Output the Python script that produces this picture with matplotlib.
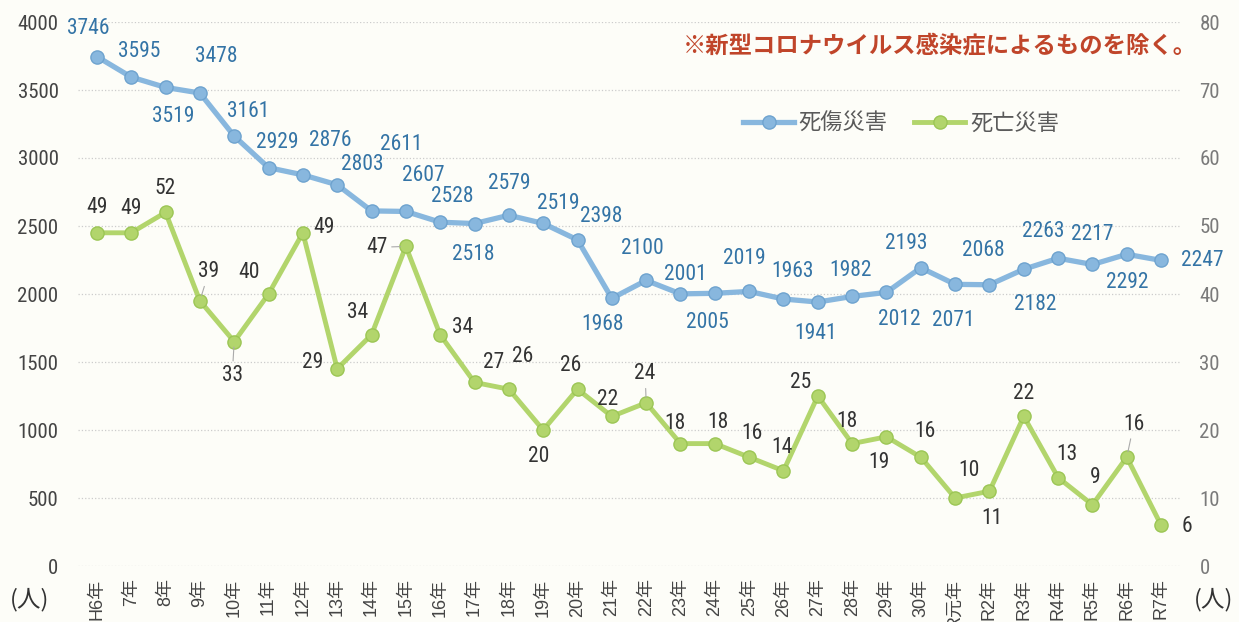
import matplotlib
matplotlib.use('Agg')
import matplotlib.pyplot as plt
from matplotlib import font_manager

# ── Data ──────────────────────────────────────────────────────────────────────
years = ['H6年', '7年', '8年', '9年', '10年', '11年', '12年', '13年', '14年', '15年',
         '16年', '17年', '18年', '19年', '20年', '21年', '22年', '23年', '24年', '25年',
         '26年', '27年', '28年', '29年', '30年', 'R元年', 'R2年', 'R3年', 'R4年', 'R5年',
         'R6年', 'R7年']
injuries = [3746, 3595, 3519, 3478, 3161, 2929, 2876, 2803, 2611, 2607,
            2528, 2518, 2579, 2519, 2398, 1968, 2100, 2001, 2005, 2019,
            1963, 1941, 1982, 2012, 2193, 2071, 2068, 2182, 2263, 2217,
            2292, 2247]
deaths = [49, 49, 52, 39, 33, 40, 49, 29, 34, 47,
          34, 27, 26, 20, 26, 22, 24, 18, 18, 16,
          14, 25, 18, 19, 16, 10, 11, 22, 13, 9,
          16, 6]
left_ticks = [0, 500, 1000, 1500, 2000, 2500, 3000, 3500, 4000]
right_ticks = [0, 10, 20, 30, 40, 50, 60, 70, 80]

NOTE = '※新型コロナウイルス感染症によるものを除く。'
NAME_INJ = '死傷災害'
NAME_DEATH = '死亡災害'
UNIT = '(人)'

# ── Label placement (pixel offsets from each point) ──────────────────────────
inj_off = [(-9, 28), (8, 26), (8, -29), (16, 36), (14, 25), (9, 25), (27, 34), (25, 20),
           (30, 66), (17, 36), (12, 26), (-1, -31), (0, 32), (15, 20), (24, 23), (-9, -26),
           (-4, 32), (5, 19), (-7, -29), (-5, 33), (9, 28), (-2, -31), (-2, 26), (13, -27),
           (-15, 24), (-2, -36), (-6, 34), (11, -35), (-15, 27), (0, 30), (0, -28), (41, 0)]
death_off = [(0, 25), (0, 24), (0, 24), (9, 29), (-2, -34), (-19, 22), (21, 5), (-25, 6),
             (-14, 22), (-29, -1), (22, 7), (19, 20), (14, 33), (-4, -26), (-7, 24), (-4, 17),
             (-1, 29), (-6, 20), (3, 21), (3, 24), (-1, 23), (-17, 14), (-5, 22), (-8, -26),
             (4, 26), (14, 27), (2, -27), (0, 23), (9, 23), (3, 27), (7, 33), (26, -1)]
death_leader = {3, 4, 9, 16, 30}

# ── Theme ─────────────────────────────────────────────────────────────────────
BG_COLOR = '#fdfdf8'
BLUE = '#88b7de'
BLUE_EDGE = '#6ea3cf'
BLUE_TEXT = '#3474a6'
GREEN = '#b2d56c'
GREEN_EDGE = '#9cc655'
GREEN_TEXT = '#333333'
TICK_COLOR = '#444444'
RTICK_COLOR = '#7a7a7a'
GRID_COLOR = '#cccccc'
NOTE_COLOR = '#c0452a'

CJK = 'Noto Sans CJK JP'
installed = {f.name for f in font_manager.fontManager.ttflist}
NUM, NUM_SIZE = 'Liberation Sans', 14
for name in ('Liberation Sans Narrow', 'Roboto Condensed', 'Open Sans Condensed'):
    if name in installed:
        NUM, NUM_SIZE = name, 15
        break

plt.rcParams['font.family'] = [NUM, CJK, 'DejaVu Sans']

fig = plt.figure(figsize=(12.39, 6.22), dpi=100, facecolor=BG_COLOR)
W, H = 1239, 622
ax = fig.add_axes([78 / W, 1 - 566 / H, (1180 - 78) / W, (566 - 22) / H])
ax.set_facecolor('none')
ax2 = ax.twinx()

x = list(range(len(years)))

ax.plot(x, injuries, color=BLUE, lw=3.8, marker='o', ms=9.5,
        mfc=BLUE, mec=BLUE_EDGE, mew=1.0, zorder=3, label=NAME_INJ)
ax2.plot(x, deaths, color=GREEN, lw=3.5, marker='o', ms=9.5,
         mfc=GREEN, mec=GREEN_EDGE, mew=1.0, zorder=3, label=NAME_DEATH)

ax.set_xlim(-0.55, len(years) - 0.45)
ax.set_ylim(0, 4000)
ax2.set_ylim(0, 80)

ax.set_yticks(left_ticks)
ax.set_yticklabels([str(t) for t in left_ticks], fontsize=NUM_SIZE, color=TICK_COLOR,
                   family=NUM)
ax2.set_yticks(right_ticks)
ax2.set_yticklabels([str(t) for t in right_ticks], fontsize=NUM_SIZE, color=RTICK_COLOR,
                    family=NUM)
ax.tick_params(axis='y', length=0, pad=14)
ax2.tick_params(axis='y', length=0, pad=14)

# year labels run off the bottom edge, as in the scanned original
ax.set_xticks(x)
ax.set_xticklabels(years, rotation=90, fontsize=13, color=TICK_COLOR,
                   family=['Liberation Sans', CJK], va='top', ha='center')
ax.tick_params(axis='x', length=0, pad=9)

ax.grid(True, axis='y', color=GRID_COLOR, lw=0.9, ls=':')
for a in (ax, ax2):
    for s in a.spines.values():
        s.set_visible(False)

# value labels
for i, v in enumerate(injuries):
    ax.annotate(str(v), (i, v), xytext=inj_off[i], textcoords='offset pixels',
                ha='center', va='center', fontsize=NUM_SIZE + 0.5, color=BLUE_TEXT,
                family=NUM, zorder=5)
for i, v in enumerate(deaths):
    kw = {}
    if i in death_leader:
        kw['arrowprops'] = dict(arrowstyle='-', color='#aaaaaa', lw=0.8,
                                shrinkA=1, shrinkB=4)
    ax2.annotate(str(v), (i, v), xytext=death_off[i], textcoords='offset pixels',
                 ha='center', va='center', fontsize=NUM_SIZE + 0.5, color=GREEN_TEXT,
                 family=NUM, zorder=5, **kw)

# legend
h1, l1 = ax.get_legend_handles_labels()
h2, l2 = ax2.get_legend_handles_labels()
fig.legend(h1 + h2, l1 + l2, loc='center', bbox_to_anchor=(901 / W, 1 - 123 / H),
           ncol=2, frameon=False, handlelength=2.3, handletextpad=0.2,
           columnspacing=1.2, prop={'family': CJK, 'size': 16},
           labelcolor='#5a5a5a')

# note and units
fig.text(683 / W, 1 - 45 / H, NOTE, ha='left', va='center', fontsize=16.8,
         fontweight='bold', color=NOTE_COLOR, family=[CJK, 'DejaVu Sans'])
fig.text(30 / W, 1 - 600 / H, UNIT, ha='center', va='center', fontsize=17,
         color='#333333', family=CJK)
fig.text(1214 / W, 1 - 600 / H, UNIT, ha='center', va='center', fontsize=17,
         color='#333333', family=CJK)

fig.savefig('out.png', dpi=100, facecolor=BG_COLOR)
